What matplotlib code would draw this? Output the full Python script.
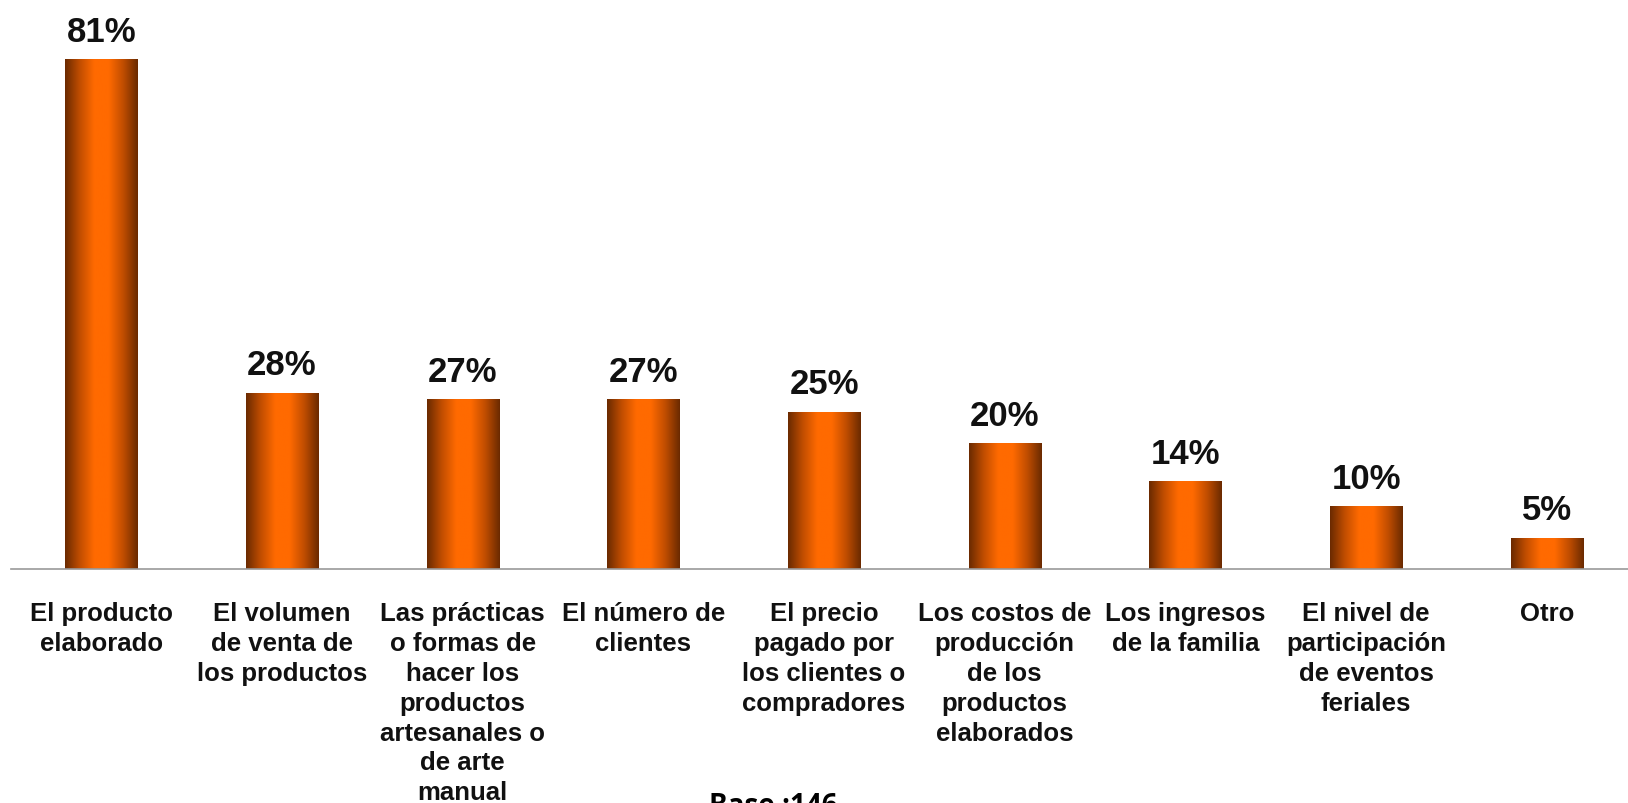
import numpy as np
import matplotlib
matplotlib.use("Agg")
import matplotlib.pyplot as plt
from matplotlib.colors import LinearSegmentedColormap

categories = [
    "El producto\nelaborado",
    "El volumen\nde venta de\nlos productos",
    "Las prácticas\no formas de\nhacer los\nproductos\nartesanales o\nde arte\nmanual",
    "El número de\nclientes",
    "El precio\npagado por\nlos clientes o\ncompradores",
    "Los costos de\nproducción\nde los\nproductos\nelaborados",
    "Los ingresos\nde la familia",
    "El nivel de\nparticipación\nde eventos\nferiales",
    "Otro",
]
values = [81, 28, 27, 27, 25, 20, 14, 10, 5]
value_labels = ["81%", "28%", "27%", "27%", "25%", "20%", "14%", "10%", "5%"]
base_text = "Base :146"

plt.rcParams['font.family'] = ['Liberation Sans', 'DejaVu Sans']

fig = plt.figure(figsize=(16.28, 8.04), dpi=100)
ax = fig.add_axes([11/1628, 1 - 570/804, 1 - 11/1628, 567/804])

x = np.arange(len(values))
bars = ax.bar(x, values, width=0.4, color='none', edgecolor='none')

cmap = LinearSegmentedColormap.from_list(
    "og", ["#6a2a00", "#c04d00", "#ff6a00", "#ff6a00", "#c04d00", "#6a2a00"])
grad = np.linspace(0, 1, 256).reshape(1, -1)
for b in bars:
    x0, y0 = b.get_x(), b.get_y()
    w, h = b.get_width(), b.get_height()
    im = ax.imshow(grad, cmap=cmap, aspect='auto',
                   extent=[x0, x0 + w, y0, y0 + h], zorder=2)
    im.set_clip_path(b)

for b, lab in zip(bars, value_labels):
    ax.annotate(lab, (b.get_x() + b.get_width() / 2, b.get_height()),
                xytext=(0, 8), textcoords='offset points',
                ha='center', va='bottom', fontsize=25, fontweight='bold',
                color='#111111')

ax.set_xlim(-0.5, 8.45)
ax.set_ylim(0, 90)
ax.set_xticks(x)
ax.set_xticklabels(categories, fontsize=18.5, fontweight='bold',
                   linespacing=1.31, va='top', color='#111111')
ax.tick_params(axis='x', length=0, pad=23)
ax.set_yticks([])
for s in ['top', 'right', 'left']:
    ax.spines[s].set_visible(False)
ax.spines['bottom'].set_color('#999999')
ax.spines['bottom'].set_linewidth(1.2)

fig.text(773/1628, 1 - 792/804, base_text, ha='center', va='top',
         fontsize=20, fontweight='bold', family=['Open Sans', 'DejaVu Sans'])

fig.savefig("out.png", dpi=100, facecolor='white')
